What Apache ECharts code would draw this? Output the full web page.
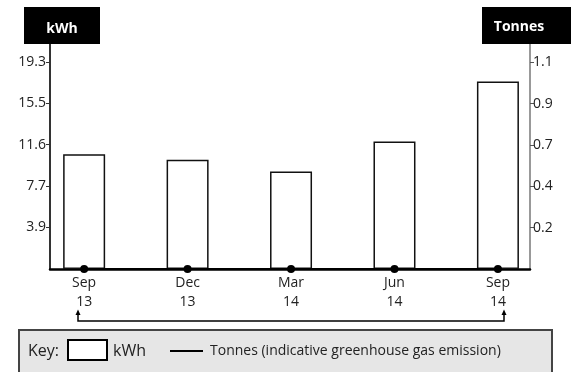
<!DOCTYPE html>
<html>
<head>
<meta charset="utf-8">
<script src="https://cdn.jsdelivr.net/npm/echarts@6/dist/echarts.min.js"></script>
<style>
  html, body { margin: 0; padding: 0; background: #fff; }
  #chart { width: 571px; height: 372px; }
</style>
</head>
<body>
<div id="chart"></div>
<script>
// Quarterly readings
var categories = ['Sep\n13', 'Dec\n13', 'Mar\n14', 'Jun\n14', 'Sep\n14'];
var kwhValues = [10.7, 10.2, 9.1, 11.9, 17.5];
var tonnesValues = [0, 0, 0, 0, 0];

// Axis ticks
var kwhTicks = [3.9, 7.7, 11.6, 15.5, 19.3];
var tonnesTicks = [0.22, 0.44, 0.66, 0.88, 1.1];

var FONT = 'Open Sans';
var catIdx = categories.map(function (_, i) { return i; });

var chart = echarts.init(document.getElementById('chart'), null, { renderer: 'canvas' });

chart.setOption({
  animation: false,
  backgroundColor: '#ffffff',
  grid: { left: 50, right: 41, top: 44, bottom: 103 },
  xAxis: {
    type: 'value',
    min: -0.33,
    max: 4.31,
    splitLine: { show: false },
    axisLine: { show: true, lineStyle: { color: '#000', width: 2.5 } },
    axisTick: { show: false },
    axisLabel: {
      customValues: catIdx,
      formatter: function (v) { return categories[Math.round(v)]; },
      fontFamily: FONT, fontSize: 14, color: '#222', lineHeight: 19, margin: 5
    }
  },
  yAxis: [
    {
      type: 'value', position: 'left', min: 0, max: 21,
      splitLine: { show: false },
      axisLine: { show: true, onZero: false, lineStyle: { color: '#333', width: 2 } },
      axisTick: { show: true, customValues: kwhTicks, length: 4, lineStyle: { color: '#333' } },
      axisLabel: {
        customValues: kwhTicks,
        formatter: function (v) { return v.toFixed(1); },
        fontFamily: FONT, fontSize: 14, color: '#222', margin: 4
      }
    },
    {
      type: 'value', position: 'right', min: 0, max: 1.197,
      splitLine: { show: false },
      axisLine: { show: true, onZero: false, lineStyle: { color: '#777', width: 1.5 } },
      axisTick: { show: true, customValues: tonnesTicks, length: 4, lineStyle: { color: '#555' } },
      axisLabel: {
        customValues: tonnesTicks,
        formatter: function (v) { return v.toFixed(1); },
        fontFamily: FONT, fontSize: 14, color: '#222', margin: 3
      }
    }
  ],
  series: [
    {
      name: 'kWh', type: 'bar', yAxisIndex: 0, barWidth: 42,
      itemStyle: { color: '#fff', borderColor: '#111', borderWidth: 1.5 },
      data: kwhValues.map(function (v, i) { return [i, v]; }),
      z: 2
    },
    {
      name: 'Tonnes', type: 'line', yAxisIndex: 1,
      symbol: 'circle', symbolSize: 8,
      lineStyle: { color: '#000', width: 2 },
      itemStyle: { color: '#000' },
      data: tonnesValues.map(function (v, i) { return [i, v]; }),
      z: 5
    }
  ],
  graphic: [
    // axis unit headers
    { type: 'rect', shape: { x: 24, y: 7, width: 76, height: 37 }, style: { fill: '#000' }, z: 10 },
    { type: 'text', x: 62, y: 29, style: { text: 'kWh', fill: '#fff', font: 'bold 14px "' + FONT + '"', textAlign: 'center', textVerticalAlign: 'middle' }, z: 11 },
    { type: 'rect', shape: { x: 482, y: 7, width: 89, height: 37 }, style: { fill: '#000' }, z: 10 },
    { type: 'text', x: 519, y: 27, style: { text: 'Tonnes', fill: '#fff', font: 'bold 14px "' + FONT + '"', textAlign: 'center', textVerticalAlign: 'middle' }, z: 11 },
    // period bracket under the axis
    { type: 'polyline', shape: { points: [[78, 313], [78, 321], [504, 321], [504, 313]] }, style: { stroke: '#000', lineWidth: 1.5, fill: null }, z: 10 },
    { type: 'polygon', shape: { points: [[75.5, 315], [78, 309.5], [80.5, 315]] }, style: { fill: '#000' }, z: 10 },
    { type: 'polygon', shape: { points: [[501.5, 315], [504, 309.5], [506.5, 315]] }, style: { fill: '#000' }, z: 10 },
    // key
    { type: 'rect', shape: { x: 19, y: 330, width: 533, height: 50 }, style: { fill: '#e6e6e6', stroke: '#444', lineWidth: 2 }, z: 10 },
    { type: 'text', x: 28, y: 351, style: { text: 'Key:', fill: '#222', font: '16px "' + FONT + '"', textVerticalAlign: 'middle' }, z: 11 },
    { type: 'rect', shape: { x: 68, y: 340, width: 39, height: 20 }, style: { fill: '#fff', stroke: '#000', lineWidth: 2 }, z: 11 },
    { type: 'text', x: 113, y: 351, style: { text: 'kWh', fill: '#222', font: '16px "' + FONT + '"', textVerticalAlign: 'middle' }, z: 11 },
    { type: 'line', shape: { x1: 170, y1: 351, x2: 203, y2: 351 }, style: { stroke: '#000', lineWidth: 2 }, z: 11 },
    { type: 'text', x: 210, y: 351, style: { text: 'Tonnes (indicative greenhouse gas emission)', fill: '#222', font: '14px "' + FONT + '"', textVerticalAlign: 'middle' }, z: 11 }
  ]
});
</script>
</body>
</html>
